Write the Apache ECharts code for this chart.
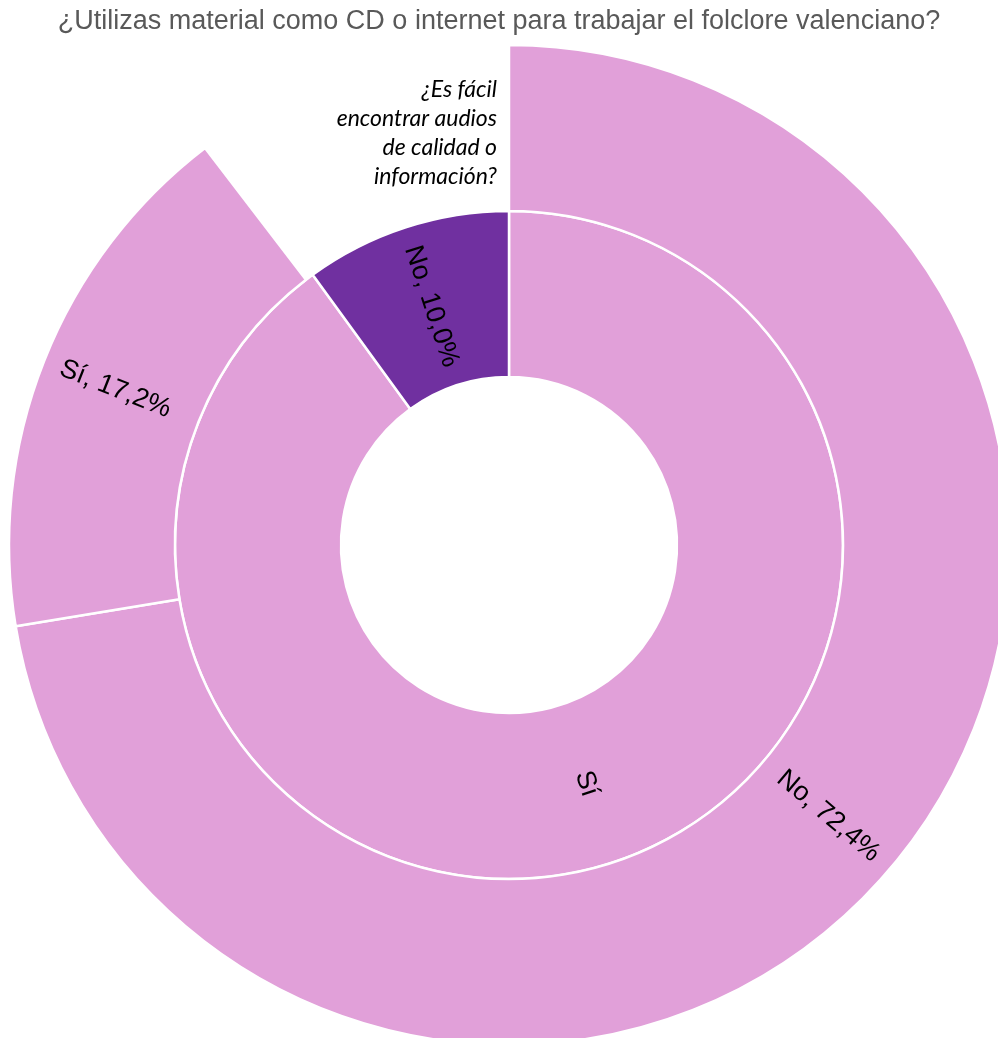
<!DOCTYPE html>
<html>
<head>
<meta charset="utf-8">
<style>
  html, body { margin: 0; padding: 0; background: #ffffff; }
  #chart { width: 998px; height: 1038px; }
</style>
<script src="https://cdn.jsdelivr.net/npm/echarts@6/dist/echarts.min.js"></script>
</head>
<body>
<div id="chart"></div>
<script>
// Inner ring: do you use CD / internet material?
const innerNames = ['Sí', 'No'];
const innerValues = [90, 10];
// Outer ring: answers of the "Sí" group to the follow-up question
const outerNames = ['No', 'Sí'];
const outerValues = [72.4, 17.2];

const titleText = '¿Utilizas material como CD o internet para trabajar el folclore valenciano?';
const noteLines = ['¿Es fácil', 'encontrar audios', 'de calidad o', 'información?'];

const PINK = '#E1A0D9';
const PURPLE = '#7030A0';

const fmtPct = v => v.toFixed(1).replace('.', ',') + '%';

const data = innerNames.map((name, i) => {
  const node = {
    name: name,
    value: innerValues[i],
    itemStyle: { color: name === 'No' ? PURPLE : PINK }
  };
  if (name === 'Sí') {
    node.children = outerNames.map((n, j) => ({
      name: n,
      value: outerValues[j],
      itemStyle: { color: PINK }
    }));
  }
  return node;
});

const chart = echarts.init(document.getElementById('chart'), null, { renderer: 'canvas' });

chart.setOption({
  animation: false,
  title: {
    text: titleText,
    left: 'center',
    top: 3,
    textStyle: {
      fontFamily: '"Liberation Sans", Arial, sans-serif',
      fontSize: 27,
      fontWeight: 'normal',
      color: '#595959'
    }
  },
  graphic: [{
    type: 'text',
    right: 998 - 497,
    top: 75,
    style: {
      text: noteLines.join('\n'),
      textAlign: 'right',
      fontFamily: 'Lato, sans-serif',
      fontStyle: 'italic',
      fontSize: 23,
      lineHeight: 29,
      fill: '#000000'
    }
  }],
  series: [{
    type: 'sunburst',
    center: [509, 545],
    radius: [168, 500],
    sort: null,
    startAngle: 90,
    nodeClick: false,
    emphasis: { disabled: true },
    itemStyle: { borderColor: '#ffffff', borderWidth: 2.5 },
    label: {
      rotate: 'radial',
      fontFamily: '"Liberation Sans", Arial, sans-serif',
      fontSize: 27,
      color: '#000000',
      formatter: p => (p.data.children ? p.name : p.name + ', ' + fmtPct(p.value))
    },
    levels: [
      {},
      { r0: 168, r: 334, label: { align: 'center' } },
      { r0: 334, r: 500, label: { align: 'right', distance: 18 } }
    ],
    data: data
  }]
});
</script>
</body>
</html>
